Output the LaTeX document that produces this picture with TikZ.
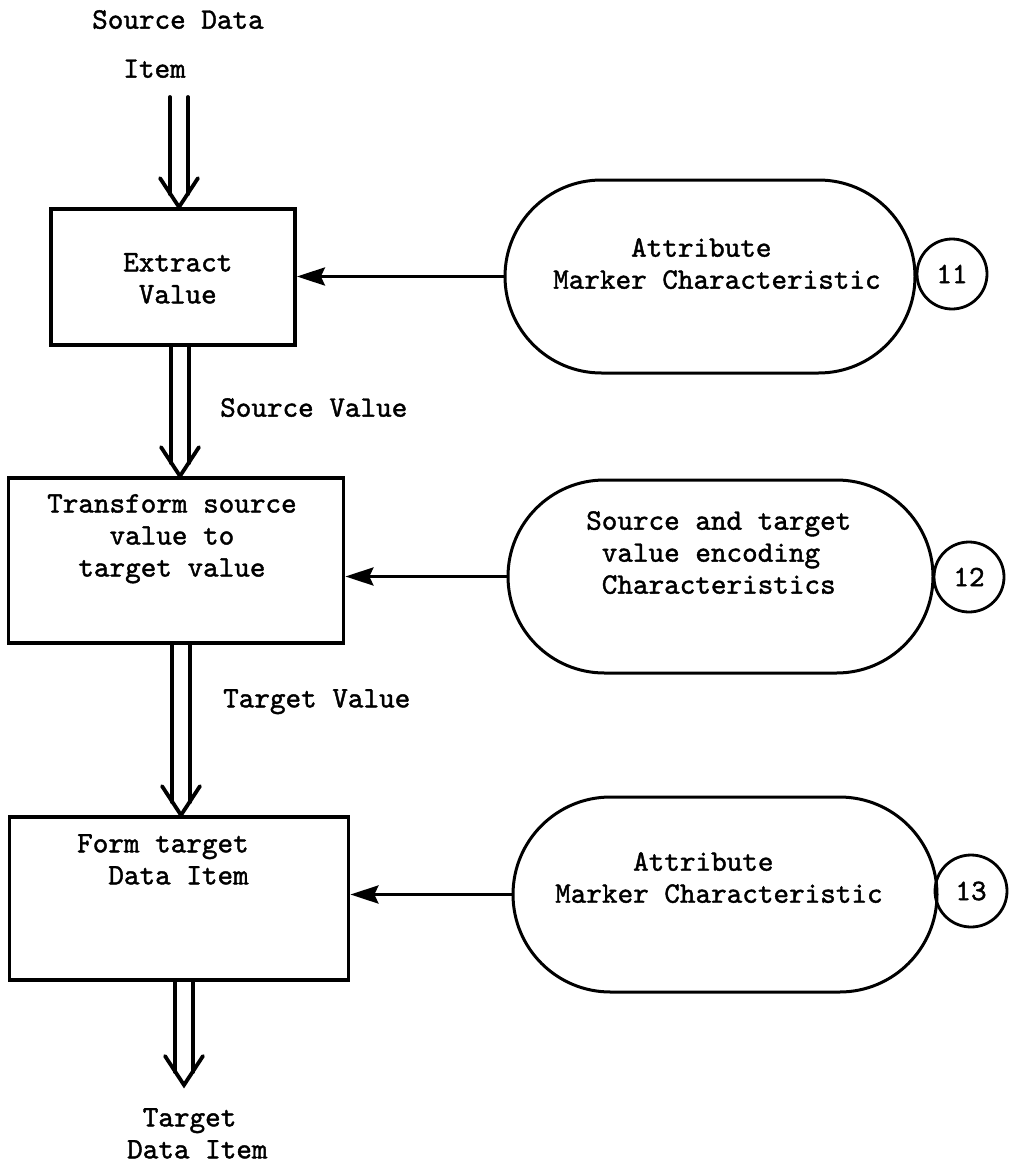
\documentclass[tikz,border=0pt]{standalone}
\usepackage{fontspec}
\setmonofont{lmmono10-regular.otf}[FakeBold=1.4]
\usetikzlibrary{arrows.meta,calc,shapes.misc}

% double-line flow arrow: #1 start point, #2 tip point (both given as coordinate expressions)
\newcommand\dblarrow[2]{%
  \draw[dbl] ($(#1)+(-9,0)$) -- ($(#2)+(-9,-13)$);
  \draw[dbl] ($(#1)+(9,0)$) -- ($(#2)+(9,-13)$);
  \draw[dbl,line join=miter,line cap=round] ($(#2)+(-19,-29)$) -- (#2) -- ($(#2)+(19,-29)$);}

\tikzset{
  every node/.style={font=\ttfamily\fontsize{29.7}{32}\selectfont},
  procbox/.style={draw, rectangle, line width=3.8pt, inner sep=0pt},
  stad/.style={draw, rounded rectangle, line width=3pt, inner sep=0pt},
  numc/.style={draw, circle, line width=2.8pt, inner sep=0pt},
  txt/.style={anchor=north west, inner sep=0pt, align=left},
  dbl/.style={line width=3.8pt, line cap=round},
  feed/.style={line width=3.2pt, -{Stealth[length=28pt,width=18pt,inset=4pt]}},
}

\begin{document}
\begin{tikzpicture}[x=1pt,y=-1pt]
\fill[white] (0,0) rectangle (1025,1164);
\useasboundingbox (0,0) rectangle (1025,1164);

% processing boxes
\node[procbox, minimum width=244, minimum height=136] (b1) at (173,277) {};
\node[procbox, minimum width=335, minimum height=165] (b2) at (176,560.5) {};
\node[procbox, minimum width=339, minimum height=163] (b3) at (179,898.5) {};

\node[txt] (b1t) at (123,253) {Extract\\\phantom{E}Value};
\node[txt] (b2t) at (47,494) {Transform source\\\phantom{valu}value to\\\phantom{ta}target value};
\node[txt] (b3t) at (77,834) {Form target\\\phantom{Fo}Data Item};

% characteristic stores
\node[stad, minimum width=410, minimum height=193] (s1) at (710,276.5) {};
\node[stad, minimum width=425, minimum height=193] (s2) at (720.5,576.5) {};
\node[stad, minimum width=424, minimum height=195] (s3) at (725,894.5) {};

\node[txt] (s1t) at (553,238) {\phantom{Marke}Attribute\\Marker Characteristic};
\node[txt] (s2t) at (586,511) {Source and target\\\phantom{S}value encoding\\\phantom{S}Characteristics};
\node[txt] (s3t) at (555,852) {\phantom{Marke}Attribute\\Marker Characteristic};

% reference numbers
\node[numc, minimum size=70] (n1) at (952,274) {11};
\node[numc, minimum size=70] (n2) at (969,577) {12};
\node[numc, minimum size=72] (n3) at (971,891) {13};

% flow labels
\node[txt] (src) at (92,10) {Source Data\\[17pt]\phantom{So}Item};
\node[txt] (sv) at (220,398) {Source Value};
\node[txt] (tv) at (223,689) {Target Value};
\node[txt] (tgt) at (127,1108) {\phantom{D}Target\\Data Item};

% arrow columns
\coordinate (cin) at (179,97);
\coordinate (c2) at (180,0);
\coordinate (c3) at (181,0);
\coordinate (cout) at (184,1085);

% main flow
\dblarrow{cin}{b1.north -| cin}
\dblarrow{b1.south -| c2}{b2.north -| c2}
\dblarrow{b2.south -| c3}{b3.north -| c3}
\dblarrow{b3.south -| cout}{cout}

% characteristic inputs
\draw[feed] (s1.west) -- (s1.west -| b1.east);
\draw[feed] (s2.west) -- (s2.west -| b2.east);
\draw[feed] (s3.west) -- (s3.west -| b3.east);
\end{tikzpicture}
\end{document}
